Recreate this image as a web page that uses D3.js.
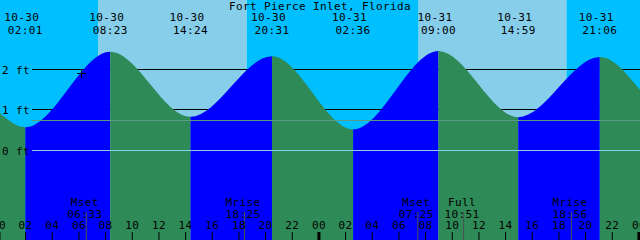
<!DOCTYPE html>
<html>
<head>
<meta charset="utf-8">
<script src="https://cdn.jsdelivr.net/npm/d3@7"></script>
<style>
  html, body { margin: 0; padding: 0; background: #fff; }
  svg { display: block; }
  text { font-family: "DejaVu Sans Mono", monospace; font-size: 11px; letter-spacing: 0.38px; fill: #000; }
</style>
</head>
<body>
<svg id="chart" width="640" height="240"></svg>
<script>
// Tide graph, two days, xtide style.
const STATION = 'Fort Pierce Inlet, Florida';
const RANGE = ['10-30 00:07', '11-01 00:07'];

const tideTimes = ['10-30 02:01', '10-30 08:23', '10-30 14:24', '10-30 20:31',
                   '10-31 02:36', '10-31 09:00', '10-31 14:59', '10-31 21:06'];
const tideKinds = ['L', 'H', 'L', 'H', 'L', 'H', 'L', 'H'];
const tideFeet  = [0.57, 2.44, 0.83, 2.33, 0.52, 2.46, 0.82, 2.31];
const edgeFeet  = [0.92, 1.50];          // level at the left / right edge

const sunTimes  = ['10-30 07:28', '10-30 18:37', '10-31 07:31', '10-31 18:36'];  // rise, set, rise, set

const moonNames = ['Mset', 'Mrise', 'Mset', 'Full', 'Mrise'];
const moonTimes = ['10-30 06:33', '10-30 18:25', '10-31 07:25', '10-31 10:51', '10-31 18:56'];

const levelTicks = [0, 1, 2];
const meanLevel = 0.73;
const nowTime = '10-30 06:13';
const nowFeet = 1.91;

const COL = { night: '#00BFFF', day: '#87CEEB', flood: '#0000FF', ebb: '#2E8B57', datum: '#87CEEB', msl: '#5A9A86', moon: '#505050' };

const W = 640, H = 240;
const parse = d3.utcParse('%m-%d %H:%M');
const fmtDate = d3.utcFormat('%m-%d'), fmtTime = d3.utcFormat('%H:%M');

const t0 = parse(RANGE[0]), t1 = parse(RANGE[1]);
const x = d3.scaleUtc().domain([t0, t1]).range([0, W]);
const y = d3.scaleLinear().domain([0, 2]).range([150.3, 69.5]);
const crisp = v => Math.floor(v) + 0.5;

const svg = d3.select('#chart');

// sky: night / day bands
const sunT = sunTimes.map(parse);
const skyEdges = [t0, ...sunT, t1];
svg.append('g').selectAll('rect').data(d3.pairs(skyEdges)).join('rect')
  .attr('x', d => x(d[0])).attr('width', d => x(d[1]) - x(d[0]))
  .attr('y', 0).attr('height', H)
  .attr('fill', (d, i) => i % 2 ? COL.day : COL.night);

// level lines above datum sit behind the water
svg.append('g').selectAll('line').data(levelTicks.filter(v => v > 0)).join('line')
  .attr('x1', 32).attr('x2', W)
  .attr('y1', d => crisp(y(d))).attr('y2', d => crisp(y(d)))
  .attr('stroke', '#000').attr('stroke-width', 1);

// water
const tides = tideTimes.map((s, i) => ({ t: parse(s), ft: tideFeet[i], kind: tideKinds[i] }));
const pts = [{ t: t0, ft: edgeFeet[0] }, ...tides, { t: t1, ft: edgeFeet[1] }];
const area = d3.area().x(d => x(d.t)).y0(H).y1(d => y(d.ft)).curve(d3.curveMonotoneX);

svg.append('clipPath').attr('id', 'water').append('path').attr('d', area(pts));

const segs = d3.pairs(pts);
svg.append('g').attr('clip-path', 'url(#water)')
  .selectAll('rect').data(segs).join('rect')
  .attr('x', d => x(d[0].t)).attr('width', d => x(d[1].t) - x(d[0].t))
  .attr('y', 0).attr('height', H)
  .attr('fill', d => d[1].ft > d[0].ft ? COL.flood : COL.ebb);

// datum + mean level on top
svg.append('line').attr('x1', 32).attr('x2', W)
  .attr('y1', crisp(y(0))).attr('y2', crisp(y(0)))
  .attr('stroke', COL.datum);
svg.append('line').attr('x1', 32).attr('x2', W)
  .attr('y1', crisp(y(meanLevel))).attr('y2', crisp(y(meanLevel)))
  .attr('stroke', COL.msl);

svg.append('g').selectAll('text').data(levelTicks).join('text')
  .attr('x', 2).attr('y', d => crisp(y(d)) + 4)
  .text(d => d + ' ft');

// title and hi/lo times
svg.append('text').attr('x', W / 2).attr('y', 9.5).attr('text-anchor', 'middle').text(STATION);

const hl = svg.append('g').selectAll('g').data(tides).join('g')
  .attr('transform', d => `translate(${x(d.t)},0)`);
hl.append('text').attr('x', -3.5).attr('y', 21).attr('text-anchor', 'middle').text(d => fmtDate(d.t));
hl.append('text').attr('x', 0).attr('y', 34).attr('text-anchor', 'middle').text(d => fmtTime(d.t));

// moon events
const moons = moonTimes.map((s, i) => ({ t: parse(s), name: moonNames[i] }));
const mg = svg.append('g').selectAll('g').data(moons).join('g')
  .attr('transform', d => `translate(${x(d.t)},0)`);
mg.append('line').attr('x1', 0.5).attr('x2', 0.5).attr('y1', 212).attr('y2', H)
  .attr('stroke', COL.moon).attr('stroke-width', 1);
mg.append('text').attr('x', -1).attr('y', 206).attr('text-anchor', 'middle').text(d => d.name);
mg.append('text').attr('x', -1).attr('y', 217.5).attr('text-anchor', 'middle').text(d => fmtTime(d.t));

// hour axis along the bottom
const hours = d3.utcHour.every(2).range(d3.utcDay.floor(t0), t1);
const axis = svg.append('g').attr('transform', `translate(0,${H})`)
  .call(d3.axisTop(x).tickValues(hours).tickSize(8).tickPadding(3).tickFormat(d3.utcFormat('%H')));
axis.select('.domain').remove();
axis.selectAll('.tick line').attr('stroke', '#000')
  .attr('stroke-width', d => d.getUTCHours() === 0 ? 3 : 1);
axis.selectAll('.tick text').attr('font-family', null).attr('font-size', null).attr('fill', '#000');

// current time marker
const nx = crisp(x(parse(nowTime))), ny = crisp(y(nowFeet));
svg.append('path')
  .attr('d', `M${nx - 4.5},${ny}H${nx + 4.5}M${nx},${ny - 4.5}V${ny + 4.5}`)
  .attr('stroke', '#000').attr('stroke-width', 1);
</script>
</body>
</html>
